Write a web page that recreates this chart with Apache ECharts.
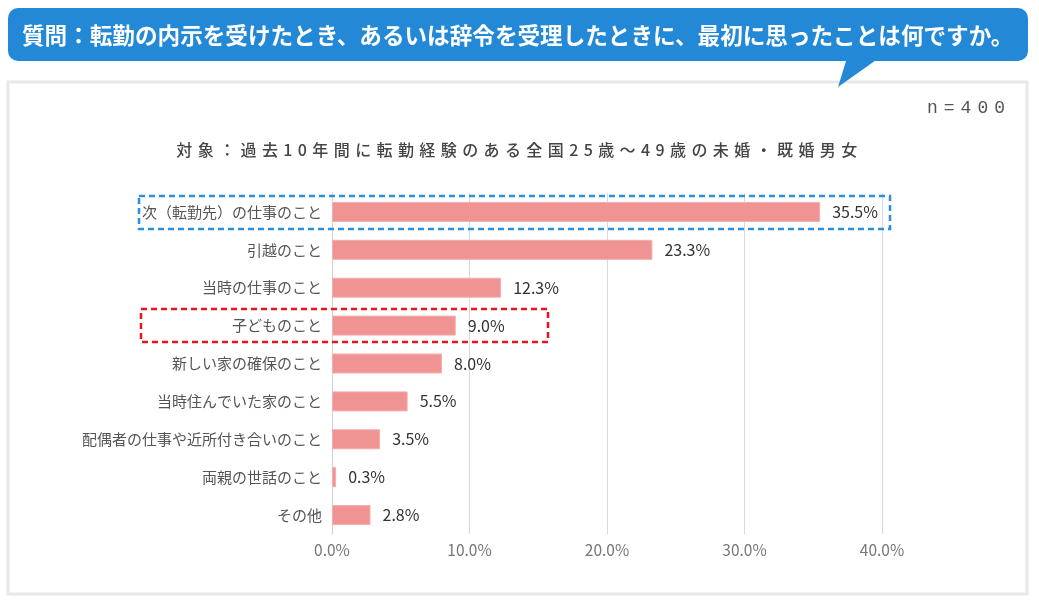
<!DOCTYPE html>
<html lang="ja">
<head>
    <meta charset="UTF-8">
    <title>転勤の内示を受けたとき最初に思ったこと</title>
    <style>
        html, body { margin: 0; padding: 0; background: #fff; }
        #wrap { position: relative; width: 1039px; height: 605px; }
        #chart { position: absolute; left: 0; top: 0; width: 1039px; height: 605px; }
        .overlay {
            position: absolute;
            font-family: "Noto Sans CJK JP", sans-serif;
            white-space: nowrap;
        }
        #subtitle { left: 0; width: 1039px; top: 137px; text-align: center; font-size: 16px; font-weight: 500; color: #444; letter-spacing: 5.4px; }
        #nlabel { right: 28px; top: 98px; font-size: 18px; color: #555; letter-spacing: 6px; font-family: "Liberation Mono", monospace; }
    </style>
</head>
<body>
    <div id="wrap">
        <div id="chart"></div>
        <div id="subtitle" class="overlay">対象：過去10年間に転勤経験のある全国25歳～49歳の未婚・既婚男女</div>
        <div id="nlabel" class="overlay">n=400</div>
    </div>

    <script src="https://cdn.jsdelivr.net/npm/echarts@6.0.0/dist/echarts.min.js"></script>
    <script>
        // データ
        const question = '質問：転勤の内示を受けたとき、あるいは辞令を受理したときに、最初に思ったことは何ですか。';
        const categories = [
            '次（転勤先）の仕事のこと',
            '引越のこと',
            '当時の仕事のこと',
            '子どものこと',
            '新しい家の確保のこと',
            '当時住んでいた家のこと',
            '配偶者の仕事や近所付き合いのこと',
            '両親の世話のこと',
            'その他'
        ];
        const values = [35.5, 23.3, 12.3, 9.0, 8.0, 5.5, 3.5, 0.3, 2.8];
        const xTicks = [0, 10, 20, 30, 40];

        const chart = echarts.init(document.getElementById('chart'));
        const jp = '"Noto Sans CJK JP", sans-serif';

        chart.setOption({
            animation: false,
            textStyle: { fontFamily: jp },
            grid: { left: 332, right: 157, top: 193, bottom: 71, containLabel: false },
            xAxis: {
                type: 'value',
                min: xTicks[0],
                max: xTicks[xTicks.length - 1],
                interval: 10,
                axisLine: { show: false },
                axisTick: { show: false },
                splitLine: { lineStyle: { color: '#d9d9d9', width: 1 } },
                axisLabel: {
                    color: '#777',
                    fontSize: 15.5,
                    margin: 8,
                    formatter: v => v.toFixed(1) + '%'
                }
            },
            yAxis: {
                type: 'category',
                inverse: true,
                data: categories,
                axisLine: { show: true, lineStyle: { color: '#d0d0d0', width: 1 } },
                axisTick: { show: false },
                axisLabel: { color: '#555', fontSize: 15, margin: 10 }
            },
            series: [{
                type: 'bar',
                data: values,
                barWidth: 20,
                itemStyle: { color: '#f09393', borderColor: '#f5adad', borderWidth: 1 },
                label: {
                    show: true,
                    position: 'right',
                    distance: 12,
                    color: '#333',
                    fontSize: 16,
                    formatter: p => p.value.toFixed(1) + '%'
                }
            }],
            graphic: [
                // パネル
                {
                    type: 'rect', z: -10, silent: true,
                    shape: { x: 8, y: 82, width: 1019, height: 512 },
                    style: { fill: '#fff', stroke: '#e8e8e8', lineWidth: 3 }
                },
                // 吹き出し
                {
                    type: 'rect', z: 10, silent: true,
                    shape: { x: 8, y: 8, width: 1020, height: 53, r: 10 },
                    style: { fill: '#2389d7' }
                },
                {
                    type: 'polygon', z: 10, silent: true,
                    shape: { points: [[847, 58], [879, 58], [838, 87]] },
                    style: { fill: '#2389d7' }
                },
                {
                    type: 'text', z: 11, silent: true,
                    x: 22, y: 35,
                    style: {
                        text: question,
                        fill: '#fff',
                        font: 'bold 22.6px "Noto Sans CJK JP", sans-serif',
                        verticalAlign: 'middle'
                    }
                },
                // 強調枠
                {
                    type: 'rect', z: 20, silent: true,
                    shape: { x: 139, y: 196, width: 751, height: 33 },
                    style: { fill: 'none', stroke: '#2a8fe0', lineWidth: 2.5, lineDash: [6, 4] }
                },
                {
                    type: 'rect', z: 20, silent: true,
                    shape: { x: 141, y: 309, width: 407, height: 33 },
                    style: { fill: 'none', stroke: '#e8141c', lineWidth: 2.5, lineDash: [6, 4] }
                }
            ]
        });
    </script>
</body>
</html>
